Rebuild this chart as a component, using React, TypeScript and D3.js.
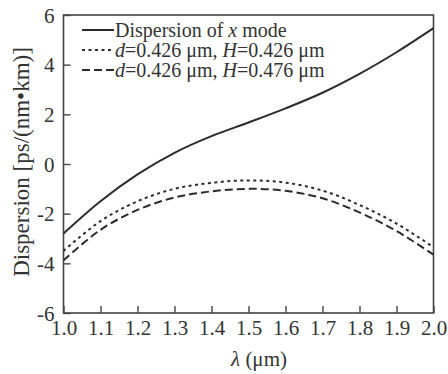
import React, { useEffect, useRef } from 'react';
import * as d3 from 'd3';

const lambdas = [1.0, 1.1, 1.2, 1.3, 1.4, 1.5, 1.6, 1.7, 1.8, 1.9, 2.0];
const xModeDispersion = [-2.8, -1.5, -0.42, 0.45, 1.12, 1.67, 2.24, 2.87, 3.63, 4.5, 5.47];
const dispersionH426 = [-3.5, -2.3, -1.5, -1.0, -0.76, -0.66, -0.75, -1.07, -1.65, -2.4, -3.35];
const dispersionH476 = [-3.88, -2.65, -1.85, -1.35, -1.1, -1.0, -1.08, -1.38, -1.95, -2.7, -3.65];
const xTicks = [1.0, 1.1, 1.2, 1.3, 1.4, 1.5, 1.6, 1.7, 1.8, 1.9, 2.0];
const yTicks = [-6, -4, -2, 0, 2, 4, 6];

const width = 448;
const height = 374;
const FONT = '"Liberation Serif", "Times New Roman", serif';
const INK = '#2b2b2b';

const App: React.FC = () => {
  const svgRef = useRef<SVGSVGElement>(null);

  useEffect(() => {
    if (!svgRef.current) return;
    const svg = d3.select(svgRef.current);
    svg.selectAll('*').remove();

    const margin = { top: 15, right: 14.5, bottom: 61, left: 63.5 };

    const x = d3.scaleLinear()
      .domain([1.0, 2.0])
      .range([margin.left, width - margin.right]);

    const y = d3.scaleLinear()
      .domain([-6, 6])
      .range([height - margin.bottom, margin.top]);

    // рамка
    svg.append('rect')
      .attr('x', x(1.0))
      .attr('y', y(6))
      .attr('width', x(2.0) - x(1.0))
      .attr('height', y(-6) - y(6))
      .attr('fill', 'none')
      .attr('stroke', '#444')
      .attr('stroke-width', 1.6);

    // оси с внутренними делениями
    const xAxis = svg.append('g')
      .attr('transform', `translate(0,${y(-6)})`)
      .call(d3.axisBottom(x).tickValues(xTicks).tickSizeInner(-7).tickSizeOuter(0).tickFormat(d => (+d).toFixed(1)));
    xAxis.select('.domain').remove();
    xAxis.selectAll('line').attr('stroke', '#444').attr('stroke-width', 1.4);
    xAxis.selectAll('text')
      .attr('font-family', FONT)
      .attr('font-size', 21)
      .attr('fill', '#333')
      .attr('y', 22)
      .attr('dy', 0);

    const yAxis = svg.append('g')
      .attr('transform', `translate(${x(1.0)},0)`)
      .call(d3.axisLeft(y).tickValues(yTicks).tickSizeInner(-7).tickSizeOuter(0).tickFormat(d => `${d}`));
    yAxis.select('.domain').remove();
    yAxis.selectAll('line').attr('stroke', '#444').attr('stroke-width', 1.4);
    yAxis.selectAll('text')
      .attr('font-family', FONT)
      .attr('font-size', 21)
      .attr('fill', '#333')
      .attr('x', -9)
      .attr('dy', '0.34em');

    // подписи осей
    const xl = svg.append('text')
      .attr('x', 259)
      .attr('y', 366)
      .attr('text-anchor', 'middle')
      .attr('font-family', FONT)
      .attr('font-size', 21)
      .attr('fill', '#333');
    xl.append('tspan').attr('font-style', 'italic').text('λ');
    xl.append('tspan').text(' (μm)');

    svg.append('text')
      .attr('transform', `translate(29,162) rotate(-90)`)
      .attr('text-anchor', 'middle')
      .attr('font-family', FONT)
      .attr('font-size', 23)
      .attr('fill', '#333')
      .text('Dispersion [ps/(nm•km)]');

    // кривые
    const series = [
      { values: xModeDispersion, dash: null },
      { values: dispersionH426, dash: '3,3.5' },
      { values: dispersionH476, dash: '8,4' },
    ];
    const line = d3.line<number>()
      .x((_, i) => x(lambdas[i]))
      .y(d => y(d))
      .curve(d3.curveCatmullRom.alpha(0.5));

    series.forEach(s => {
      svg.append('path')
        .datum(s.values)
        .attr('fill', 'none')
        .attr('stroke', INK)
        .attr('stroke-width', 2)
        .attr('stroke-dasharray', s.dash)
        .attr('d', line);
    });

    // легенда
    const legendRows = [
      { dash: null, parts: [['Dispersion of ', false], ['x', true], [' mode', false]] },
      { dash: '3,3.5', parts: [['d', true], ['=0.426 μm, ', false], ['H', true], ['=0.426 μm', false]] },
      { dash: '8,4', parts: [['d', true], ['=0.426 μm, ', false], ['H', true], ['=0.476 μm', false]] },
    ];
    const legend = svg.append('g');
    legendRows.forEach((row, i) => {
      const cy = 30 + i * 20;
      legend.append('line')
        .attr('x1', 82).attr('x2', 114)
        .attr('y1', cy).attr('y2', cy)
        .attr('stroke', INK)
        .attr('stroke-width', 2)
        .attr('stroke-dasharray', row.dash);
      const t = legend.append('text')
        .attr('x', 115)
        .attr('y', cy + 7)
        .attr('font-family', FONT)
        .attr('font-size', 20)
        .attr('fill', '#333');
      row.parts.forEach(([s, it]) => {
        t.append('tspan').attr('font-style', it ? 'italic' : 'normal').text(s as string);
      });
    });
  }, []);

  return (
    <svg
      ref={svgRef}
      width={width}
      height={height}
      style={{ position: 'absolute', left: 0, top: 0, background: '#fff' }}
    />
  );
};

export default App;
